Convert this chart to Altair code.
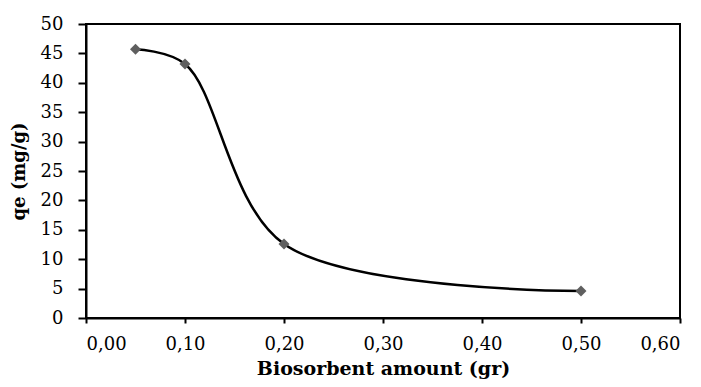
import altair as alt
import pandas as pd

amount = [0.05, 0.10, 0.20, 0.50]
qe = [45.7, 43.2, 12.6, 4.6]
x_ticks = [0.0, 0.1, 0.2, 0.3, 0.4, 0.5, 0.6]
y_ticks = [0, 5, 10, 15, 20, 25, 30, 35, 40, 45, 50]

df = pd.DataFrame({"amount": amount, "qe": qe})

FONT = "DejaVu Serif"

x = alt.X("amount:Q",
          scale=alt.Scale(domain=[0, 0.6], nice=False, zero=False),
          axis=alt.Axis(title="Biosorbent amount (gr)", values=x_ticks,
                        labelExpr="replace(format(datum.value, '.2f'), '.', ',')",
                        grid=False, domainColor="black", domainWidth=2,
                        tickColor="black", tickWidth=2, tickSize=5,
                        labelFont=FONT, labelFontSize=18, labelColor="black",
                        labelPadding=12,
                        titleFont=FONT, titleFontSize=19, titleFontWeight="bold",
                        titleColor="black", titlePadding=6))
y = alt.Y("qe:Q",
          scale=alt.Scale(domain=[0, 50], nice=False),
          axis=alt.Axis(title="qe (mg/g)", values=y_ticks,
                        grid=False, domainColor="black", domainWidth=2,
                        tickColor="black", tickWidth=2, tickSize=8,
                        labelFont=FONT, labelFontSize=18, labelColor="black",
                        labelPadding=15,
                        titleFont=FONT, titleFontSize=18, titleFontWeight="bold",
                        titleColor="black", titlePadding=12))

line = alt.Chart(df).mark_line(interpolate="catmull-rom", color="black", strokeWidth=2.5).encode(x=x, y=y)
pts = alt.Chart(df).mark_point(shape="diamond", filled=True, color="#5f5f5f", size=120, opacity=1).encode(x=x, y=y)

chart = alt.layer(line, pts).properties(
    width=594, height=294,
    autosize=alt.AutoSizeParams(type="none"),
    padding={"left": 78, "top": 16, "right": 10, "bottom": 61},
    background="white",
).configure(font=FONT).configure_view(stroke="black", strokeWidth=2)

chart.save("out.html", embed_options={"renderer": "svg", "actions": False})
